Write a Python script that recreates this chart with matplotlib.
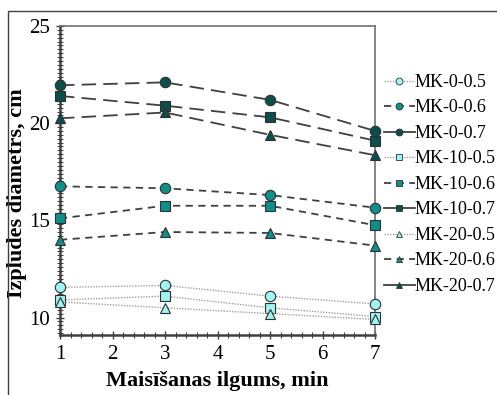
import numpy as np
import matplotlib.pyplot as plt
from matplotlib.lines import Line2D
from matplotlib.patches import Rectangle
from matplotlib.ticker import MultipleLocator

plt.rcParams['font.family'] = ['Liberation Serif', 'DejaVu Serif']

# Maisīšanas ilgums, min
laiks = [1, 3, 5, 7]

# Izplūdes diametrs, cm
mk_0_05 = [11.55, 11.65, 11.1, 10.7]
mk_0_06 = [16.75, 16.65, 16.3, 15.65]
mk_0_07 = [21.95, 22.1, 21.2, 19.6]
mk_10_05 = [10.9, 11.1, 10.5, 10.05]
mk_10_06 = [15.1, 15.75, 15.75, 14.75]
mk_10_07 = [21.4, 20.9, 20.3, 19.1]
mk_20_05 = [10.8, 10.5, 10.2, 9.9]
mk_20_06 = [14.0, 14.4, 14.35, 13.7]
mk_20_07 = [20.25, 20.55, 19.4, 18.35]

nosaukumi = ['MK-0-0.5', 'MK-0-0.6', 'MK-0-0.7',
             'MK-10-0.5', 'MK-10-0.6', 'MK-10-0.7',
             'MK-20-0.5', 'MK-20-0.6', 'MK-20-0.7']
serijas = [mk_0_05, mk_0_06, mk_0_07,
           mk_10_05, mk_10_06, mk_10_07,
           mk_20_05, mk_20_06, mk_20_07]

gaiss = '#9ef5f2'
vidus = '#0f8f8a'
tumss = '#0a4f4c'
krasas = {0.5: gaiss, 0.6: vidus, 0.7: tumss}
markieri = {0: 'o', 10: 's', 20: '^'}

fig = plt.figure(figsize=(4.97, 3.95), dpi=100)
fig.patches.append(Rectangle((8 / 497, -0.01), 1.0, 1 - 11 / 395 + 0.01,
                             transform=fig.transFigure, fill=False,
                             edgecolor='#404040', lw=1.0))
ax = fig.add_axes([60 / 497, 1 - 335 / 395, 315 / 497, 309 / 395])

rokturi = []
for nos, y in zip(nosaukumi, serijas):
    mk = int(nos.split('-')[1])
    wc = float(nos.split('-')[2])
    ms = 7.5 if mk != 20 else 7
    if wc == 0.5:
        ls, lc, lw = (0, (1, 1)), '#a0a0a0', 1.0
    elif wc == 0.6:
        ls, lc, lw = (0, (4, 3)), '#404040', 1.3
    else:
        ls, lc, lw = (0, (8, 4)), '#404040', 1.3
    ax.plot(laiks, y, linestyle=ls, color=lc, lw=lw, marker=markieri[mk],
            ms=ms, mfc=krasas[wc], mec='#303030', mew=0.8, clip_on=False, zorder=3)
    leg_ls = '-' if wc == 0.7 else ls
    rokturi.append(Line2D([], [], linestyle=leg_ls, color=lc, lw=lw,
                          marker=markieri[mk], ms=5, mfc=krasas[wc],
                          mec='#303030', mew=0.6))

ax.set_xlim(1, 7)
ax.set_ylim(9.1, 25)
ax.xaxis.set_major_locator(MultipleLocator(1))
ax.xaxis.set_minor_locator(MultipleLocator(0.2))
ax.yaxis.set_major_locator(MultipleLocator(5))
ax.yaxis.set_minor_locator(MultipleLocator(0.2))
ax.tick_params(which='both', direction='inout', color='#404040')
ax.tick_params(which='major', length=6, width=1, labelsize=15, pad=4)
ax.tick_params(which='minor', length=4, width=0.8)
for s in ['left', 'bottom']:
    ax.spines[s].set_color('#404040')
    ax.spines[s].set_linewidth(1.8)
for s in ['top', 'right']:
    ax.spines[s].set_color('#707070')
    ax.spines[s].set_linewidth(1.2)

ax.set_xlabel('Maisīšanas ilgums, min', fontsize=16, fontweight='bold', labelpad=5)
ax.set_ylabel('Izplūdes diametrs, cm', fontsize=16, fontweight='bold')
ax.yaxis.set_label_coords(-0.105, 0.46)

fig.legend(rokturi, nosaukumi, loc='upper left', bbox_to_anchor=(384 / 497, 1 - 74 / 395),
           frameon=False, fontsize=13, handlelength=1.7, handletextpad=0.0,
           labelspacing=0.47, borderpad=0, borderaxespad=0)

fig.savefig('out.png', dpi=100)
